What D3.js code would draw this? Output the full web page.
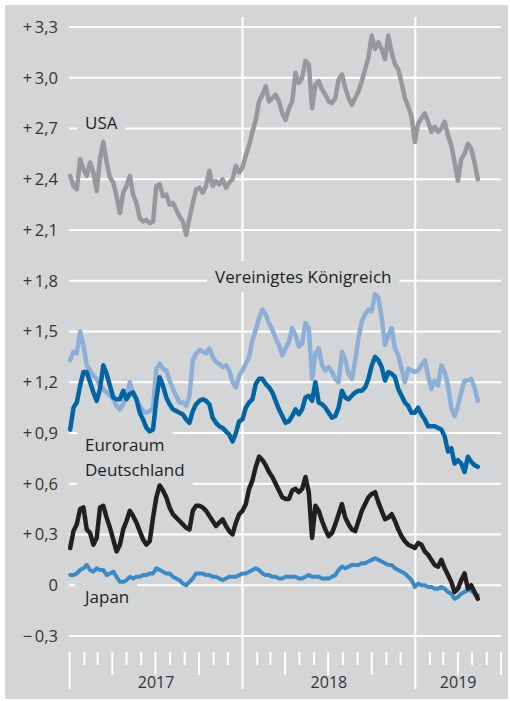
<!DOCTYPE html>
<html>
<head>
<meta charset="utf-8">
<script src="https://cdn.jsdelivr.net/npm/d3@7"></script>
<style>
  body { margin: 0; background: #fff; }
  text { font-family: "Open Sans", "Noto Sans", sans-serif; }
</style>
</head>
<body>
<div id="chart"></div>
<script>
var width = 510;
var height = 701;

// y axis ticks and their labels (German number format)
var yTicks = [-0.3, 0, 0.3, 0.6, 0.9, 1.2, 1.5, 1.8, 2.1, 2.4, 2.7, 3.0, 3.3];
var yTickLabels = ["\u2212\u20090,3", "0", "+\u20090,3", "+\u20090,6", "+\u20090,9", "+\u20091,2",
  "+\u20091,5", "+\u20091,8", "+\u20092,1", "+\u20092,4", "+\u20092,7", "+\u20093,0", "+\u20093,3"];

var years = ["2017", "2018", "2019"];

// weekly observations, first one on 2 Jan 2017
var startDate = new Date(2017, 0, 2);

var usa = [2.42, 2.36, 2.34, 2.52, 2.46, 2.42, 2.50, 2.44, 2.33, 2.52,
  2.62, 2.50, 2.41, 2.38, 2.30, 2.20, 2.32, 2.36, 2.42, 2.31,
  2.26, 2.17, 2.15, 2.16, 2.14, 2.15, 2.36, 2.37, 2.30, 2.31,
  2.25, 2.26, 2.22, 2.18, 2.15, 2.07, 2.17, 2.26, 2.34, 2.35,
  2.32, 2.36, 2.45, 2.36, 2.39, 2.37, 2.40, 2.35, 2.38, 2.40,
  2.48, 2.44, 2.47, 2.54, 2.60, 2.68, 2.75, 2.86, 2.90, 2.95,
  2.86, 2.88, 2.90, 2.86, 2.79, 2.75, 2.82, 2.86, 3.03, 2.97,
  3.00, 3.10, 3.08, 2.82, 2.96, 2.98, 2.93, 2.90, 2.86, 2.85,
  2.88, 2.99, 3.02, 2.94, 2.88, 2.84, 2.88, 2.92, 2.98, 3.05,
  3.12, 3.25, 3.17, 3.21, 3.17, 3.11, 3.25, 3.15, 3.08, 3.05,
  2.97, 2.88, 2.83, 2.77, 2.62, 2.73, 2.76, 2.79, 2.74, 2.68,
  2.71, 2.68, 2.70, 2.74, 2.66, 2.60, 2.50, 2.39, 2.52, 2.55,
  2.61, 2.58, 2.50, 2.40];

var uk = [1.33, 1.38, 1.37, 1.50, 1.42, 1.30, 1.27, 1.24, 1.22, 1.18,
  1.16, 1.14, 1.12, 1.10, 1.06, 1.04, 1.07, 1.12, 1.20, 1.13,
  1.10, 1.06, 1.03, 1.02, 1.03, 1.05, 1.28, 1.31, 1.28, 1.27,
  1.21, 1.16, 1.12, 1.08, 1.08, 1.06, 1.12, 1.33, 1.37, 1.39,
  1.38, 1.37, 1.40, 1.35, 1.32, 1.31, 1.29, 1.30, 1.27, 1.20,
  1.17, 1.24, 1.27, 1.31, 1.35, 1.45, 1.51, 1.58, 1.63, 1.60,
  1.55, 1.51, 1.46, 1.42, 1.36, 1.40, 1.44, 1.52, 1.48, 1.41,
  1.43, 1.55, 1.52, 1.22, 1.37, 1.40, 1.30, 1.27, 1.29, 1.26,
  1.22, 1.20, 1.38, 1.33, 1.25, 1.22, 1.33, 1.46, 1.56, 1.60,
  1.63, 1.62, 1.72, 1.70, 1.58, 1.42, 1.48, 1.52, 1.40, 1.36,
  1.28, 1.20, 1.28, 1.27, 1.26, 1.27, 1.30, 1.33, 1.24, 1.16,
  1.21, 1.18, 1.30, 1.26, 1.18, 1.05, 1.00, 1.06, 1.14, 1.21,
  1.21, 1.22, 1.17, 1.09];

var euro = [0.92, 1.05, 1.08, 1.18, 1.26, 1.26, 1.20, 1.14, 1.09, 1.16,
  1.30, 1.25, 1.18, 1.11, 1.10, 1.10, 1.15, 1.10, 1.13, 1.14,
  1.10, 1.02, 0.98, 0.93, 0.91, 0.92, 1.10, 1.23, 1.18, 1.11,
  1.07, 1.04, 1.03, 1.02, 1.01, 0.98, 0.96, 1.03, 1.07, 1.09,
  1.10, 1.09, 1.07, 0.99, 0.96, 0.94, 0.93, 0.91, 0.89, 0.85,
  0.90, 0.97, 0.98, 1.05, 1.08, 1.10, 1.19, 1.22, 1.22, 1.19,
  1.17, 1.14, 1.09, 1.04, 1.00, 0.96, 0.97, 1.00, 1.04, 1.01,
  1.04, 1.11, 1.12, 1.09, 1.20, 1.08, 1.07, 1.05, 1.02, 0.99,
  1.00, 1.05, 1.15, 1.11, 1.10, 1.12, 1.14, 1.15, 1.15, 1.17,
  1.22, 1.30, 1.35, 1.33, 1.29, 1.21, 1.26, 1.25, 1.23, 1.16,
  1.12, 1.08, 1.06, 1.02, 1.02, 1.05, 1.01, 0.98, 0.94, 0.94,
  0.94, 0.93, 0.92, 0.88, 0.79, 0.81, 0.72, 0.74, 0.72, 0.67,
  0.76, 0.73, 0.71, 0.70];

var germany = [0.22, 0.32, 0.36, 0.45, 0.46, 0.33, 0.31, 0.24, 0.28, 0.46,
  0.47, 0.40, 0.34, 0.27, 0.20, 0.24, 0.33, 0.38, 0.44, 0.41,
  0.37, 0.32, 0.27, 0.24, 0.26, 0.40, 0.52, 0.59, 0.56, 0.52,
  0.46, 0.42, 0.40, 0.38, 0.36, 0.34, 0.33, 0.44, 0.47, 0.47,
  0.46, 0.44, 0.41, 0.38, 0.35, 0.37, 0.39, 0.35, 0.32, 0.30,
  0.37, 0.42, 0.44, 0.48, 0.57, 0.62, 0.70, 0.76, 0.74, 0.71,
  0.67, 0.64, 0.60, 0.56, 0.52, 0.51, 0.51, 0.56, 0.57, 0.55,
  0.57, 0.64, 0.55, 0.28, 0.47, 0.44, 0.38, 0.33, 0.29, 0.31,
  0.36, 0.42, 0.48, 0.40, 0.36, 0.33, 0.32, 0.38, 0.44, 0.48,
  0.52, 0.54, 0.55, 0.49, 0.44, 0.39, 0.40, 0.42, 0.38, 0.33,
  0.29, 0.26, 0.24, 0.23, 0.22, 0.25, 0.24, 0.20, 0.18, 0.15,
  0.12, 0.11, 0.15, 0.10, 0.06, 0.02, -0.04, -0.02, 0.03, 0.07,
  -0.02, 0.00, -0.04, -0.08];

var japan = [0.06, 0.06, 0.07, 0.09, 0.10, 0.12, 0.09, 0.08, 0.10, 0.09,
  0.09, 0.06, 0.07, 0.08, 0.05, 0.02, 0.02, 0.03, 0.05, 0.04,
  0.05, 0.05, 0.06, 0.06, 0.07, 0.07, 0.10, 0.09, 0.08, 0.07,
  0.07, 0.05, 0.04, 0.03, 0.01, 0.00, 0.02, 0.04, 0.07, 0.07,
  0.07, 0.06, 0.06, 0.05, 0.05, 0.04, 0.03, 0.04, 0.05, 0.05,
  0.05, 0.06, 0.07, 0.07, 0.08, 0.09, 0.10, 0.09, 0.07, 0.06,
  0.06, 0.05, 0.05, 0.04, 0.04, 0.05, 0.05, 0.05, 0.05, 0.04,
  0.04, 0.05, 0.06, 0.05, 0.05, 0.05, 0.04, 0.04, 0.04, 0.05,
  0.06, 0.09, 0.11, 0.10, 0.11, 0.12, 0.12, 0.12, 0.13, 0.13,
  0.14, 0.15, 0.16, 0.15, 0.14, 0.13, 0.12, 0.12, 0.10, 0.09,
  0.08, 0.07, 0.05, 0.03, -0.01, 0.01, 0.00, 0.00, -0.01, -0.01,
  -0.02, -0.02, -0.01, -0.02, -0.04, -0.05, -0.08, -0.07, -0.05, -0.04,
  -0.03, -0.03, -0.05, -0.06];

var dates = usa.map(function(d, i) {
  return d3.timeDay.offset(startDate, i * 7);
});

var bg = "#d4d5d7";

var svg = d3.select("#chart")
  .append("svg")
  .attr("width", width)
  .attr("height", height);

svg.append("rect")
  .attr("x", 5)
  .attr("y", 5)
  .attr("width", 503)
  .attr("height", 694)
  .attr("fill", bg);

var xScale = d3.scaleTime()
  .domain([new Date(2017, 0, 1), new Date(2019, 6, 1)])
  .range([69.7, 501]);

var yScale = d3.scaleLinear()
  .domain([-0.3, 3.3])
  .range([636, 27]);

// horizontal gridlines
svg.append("g")
  .selectAll("line")
  .data(yTicks)
  .enter()
  .append("line")
  .attr("x1", 69)
  .attr("x2", xScale.range()[1])
  .attr("y1", function(d) { return yScale(d); })
  .attr("y2", function(d) { return yScale(d); })
  .attr("stroke", "#fff")
  .attr("stroke-width", 2);

// y tick labels
svg.append("g")
  .selectAll("text")
  .data(yTicks)
  .enter()
  .append("text")
  .attr("x", 58)
  .attr("y", function(d) { return yScale(d); })
  .attr("dy", "0.36em")
  .attr("text-anchor", "end")
  .attr("font-size", 16.5)
  .attr("fill", "#333")
  .text(function(d, i) { return yTickLabels[i]; });

// year boundaries: full height for 2018 and 2019, only axis part for 2017
var yearStarts = years.map(function(y) { return new Date(+y, 0, 1); });
svg.append("g")
  .selectAll("line")
  .data(yearStarts)
  .enter()
  .append("line")
  .attr("x1", function(d) { return xScale(d); })
  .attr("x2", function(d) { return xScale(d); })
  .attr("y1", function(d, i) { return i === 0 ? 652 : 17; })
  .attr("y2", 689)
  .attr("stroke", "#fff")
  .attr("stroke-width", 2);

// month ticks, longer at each quarter
var months = d3.timeMonth.range(new Date(2017, 1, 1), new Date(2019, 6, 2))
  .filter(function(d) { return d.getMonth() !== 0; });
svg.append("g")
  .selectAll("line")
  .data(months)
  .enter()
  .append("line")
  .attr("x1", function(d) { return xScale(d); })
  .attr("x2", function(d) { return xScale(d); })
  .attr("y1", 652)
  .attr("y2", function(d) { return d.getMonth() % 3 === 0 ? 675 : 665; })
  .attr("stroke", "#fff")
  .attr("stroke-width", 2);

// year labels centred between boundaries
var yearEnds = [new Date(2018, 0, 1), new Date(2019, 0, 1), new Date(2019, 6, 1)];
svg.append("g")
  .selectAll("text")
  .data(years)
  .enter()
  .append("text")
  .attr("x", function(d, i) { return (xScale(yearStarts[i]) + xScale(yearEnds[i])) / 2; })
  .attr("y", 688)
  .attr("text-anchor", "middle")
  .attr("font-size", 16)
  .attr("fill", "#333")
  .text(function(d) { return d; });

// series labels with a background patch that cuts the gridlines
var labels = [
  { name: "USA", x: 85, y: 129 },
  { name: "Vereinigtes Königreich", x: 215, y: 283 },
  { name: "Euroraum", x: 85, y: 451 },
  { name: "Deutschland", x: 85, y: 476 },
  { name: "Japan", x: 85, y: 603 }
];

var labelG = svg.append("g");
labels.forEach(function(l) {
  var t = labelG.append("text")
    .attr("x", l.x)
    .attr("y", l.y)
    .attr("font-size", 17)
    .attr("fill", "#231f20")
    .text(l.name);
  var b = t.node().getBBox();
  labelG.insert("rect", "text")
    .attr("x", b.x - 8)
    .attr("y", b.y - 4)
    .attr("width", b.width + 16)
    .attr("height", b.height + 8)
    .attr("fill", bg);
});

var line = d3.line()
  .x(function(d, i) { return xScale(dates[i]); })
  .y(function(d) { return yScale(d); });

var series = [
  { values: usa, color: "#97989b", w: 4.5 },
  { values: uk, color: "#8daed7", w: 4.5 },
  { values: euro, color: "#0065a2", w: 4.5 },
  { values: japan, color: "#3b8ac4", w: 4 },
  { values: germany, color: "#231f20", w: 4.5 }
];

svg.append("g")
  .selectAll("path")
  .data(series)
  .enter()
  .append("path")
  .attr("d", function(d) { return line(d.values); })
  .attr("fill", "none")
  .attr("stroke", function(d) { return d.color; })
  .attr("stroke-width", function(d) { return d.w; })
  .attr("stroke-linejoin", "round")
  .attr("stroke-linecap", "round");
</script>
</body>
</html>
